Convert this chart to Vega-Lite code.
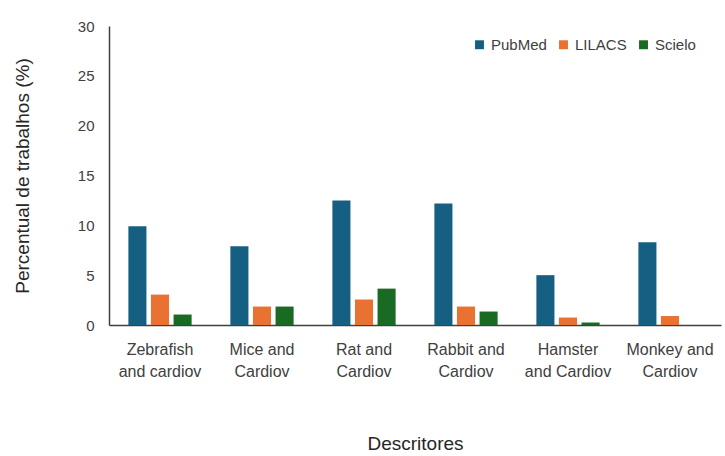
{
  "$schema": "https://vega.github.io/schema/vega-lite/v6.json",
  "width": 612,
  "height": 299,
  "autosize": {"type": "none"},
  "padding": {"left": 109, "top": 26, "right": 4, "bottom": 131},
  "background": "white",
  "config": {
    "view": {"stroke": null},
    "font": "Liberation Sans"
  },
  "data": {
    "values": [
      {"descritor": "Zebrafish and cardiov", "base": "PubMed", "valor": 9.9},
      {"descritor": "Zebrafish and cardiov", "base": "LILACS", "valor": 3.05},
      {"descritor": "Zebrafish and cardiov", "base": "Scielo", "valor": 1.05},
      {"descritor": "Mice and Cardiov", "base": "PubMed", "valor": 7.9},
      {"descritor": "Mice and Cardiov", "base": "LILACS", "valor": 1.85},
      {"descritor": "Mice and Cardiov", "base": "Scielo", "valor": 1.85},
      {"descritor": "Rat and Cardiov", "base": "PubMed", "valor": 12.5},
      {"descritor": "Rat and Cardiov", "base": "LILACS", "valor": 2.55},
      {"descritor": "Rat and Cardiov", "base": "Scielo", "valor": 3.65},
      {"descritor": "Rabbit and Cardiov", "base": "PubMed", "valor": 12.2},
      {"descritor": "Rabbit and Cardiov", "base": "LILACS", "valor": 1.85},
      {"descritor": "Rabbit and Cardiov", "base": "Scielo", "valor": 1.35},
      {"descritor": "Hamster and Cardiov", "base": "PubMed", "valor": 5.0},
      {"descritor": "Hamster and Cardiov", "base": "LILACS", "valor": 0.75},
      {"descritor": "Hamster and Cardiov", "base": "Scielo", "valor": 0.25},
      {"descritor": "Monkey and Cardiov", "base": "PubMed", "valor": 8.3},
      {"descritor": "Monkey and Cardiov", "base": "LILACS", "valor": 0.9},
      {"descritor": "Monkey and Cardiov", "base": "Scielo", "valor": 0}
    ]
  },
  "mark": {"type": "bar"},
  "encoding": {
    "x": {
      "field": "descritor",
      "type": "nominal",
      "sort": null,
      "scale": {"paddingInner": 0.38, "paddingOuter": 0.19},
      "axis": {
        "title": "Descritores",
        "titleFontSize": 19,
        "titleFontWeight": "normal",
        "titleColor": "#262626",
        "titlePadding": 55,
        "labelAngle": 0,
        "labelFontSize": 16,
        "labelColor": "#404040",
        "labelPadding": 16,
        "labelLineHeight": 22,
        "labelExpr": "datum.value == 'Zebrafish and cardiov' ? ['Zebrafish', 'and cardiov'] : datum.value == 'Hamster and Cardiov' ? ['Hamster', 'and Cardiov'] : [replace(datum.value, ' Cardiov', ''), 'Cardiov']",
        "ticks": false,
        "domainColor": "#404040",
        "domainWidth": 1.5
      }
    },
    "xOffset": {
      "field": "base",
      "type": "nominal",
      "sort": ["PubMed", "LILACS", "Scielo"],
      "scale": {"paddingInner": 0.2, "paddingOuter": 0}
    },
    "y": {
      "field": "valor",
      "type": "quantitative",
      "scale": {"domain": [0, 30]},
      "axis": {
        "title": "Percentual de trabalhos (%)",
        "titleFontSize": 19,
        "titleFontWeight": "normal",
        "titleColor": "#262626",
        "titlePadding": 45,
        "values": [0, 5, 10, 15, 20, 25, 30],
        "labelFontSize": 15,
        "labelColor": "#404040",
        "labelPadding": 15,
        "ticks": false,
        "grid": false,
        "domainColor": "#404040",
        "domainWidth": 1.5
      }
    },
    "color": {
      "field": "base",
      "type": "nominal",
      "sort": ["PubMed", "LILACS", "Scielo"],
      "scale": {"domain": ["PubMed", "LILACS", "Scielo"], "range": ["#156082", "#E97132", "#196B24"]},
      "legend": {
        "title": null,
        "orient": "none",
        "legendX": 363,
        "legendY": 11,
        "direction": "horizontal",
        "symbolType": "square",
        "symbolSize": 80,
        "symbolStrokeWidth": 0,
        "labelFontSize": 15,
        "labelColor": "#404040",
        "labelOffset": 4,
        "columnPadding": 9
      }
    }
  }
}
